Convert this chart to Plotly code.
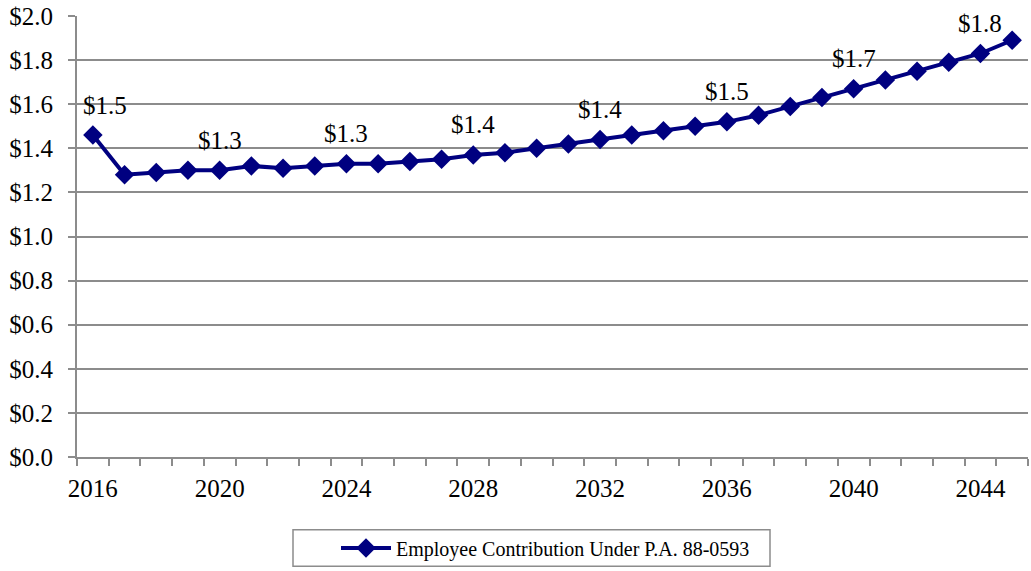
import plotly.graph_objects as go

years = list(range(2016, 2046))
contribution = [1.46, 1.28, 1.29, 1.30, 1.30, 1.32, 1.31, 1.32, 1.33, 1.33,
                1.34, 1.35, 1.37, 1.38, 1.40, 1.42, 1.44, 1.46, 1.48, 1.50,
                1.52, 1.55, 1.59, 1.63, 1.67, 1.71, 1.75, 1.79, 1.83, 1.89]
label_years = [2016, 2020, 2024, 2028, 2032, 2036, 2040, 2044]
tick_years = [2016, 2020, 2024, 2028, 2032, 2036, 2040, 2044]
y_ticks = [0.0, 0.2, 0.4, 0.6, 0.8, 1.0, 1.2, 1.4, 1.6, 1.8, 2.0]
series_name = "Employee Contribution Under P.A. 88-0593"

navy = "#000080"
grid = "#8c8c8c"
font = "Liberation Serif, Times New Roman, serif"

W, H = 1031, 571
L, R, T, B = 77, 3, 10, 113
PW, PH = W - L - R, H - T - B


def px_x(x):
    return (x - L) / PW


def px_y(y):
    return (H - B - y) / PH


fig = go.Figure()
fig.add_trace(go.Scatter(
    x=years, y=contribution, mode="lines+markers", name=series_name,
    line=dict(color=navy, width=4),
    marker=dict(symbol="diamond", size=15, color=navy),
))

for i, yr in enumerate(label_years):
    v = contribution[years.index(yr)]
    fig.add_annotation(x=yr, y=v, text=f"${v:.1f}", showarrow=False,
                       yshift=30, xshift=12 if i == 0 else 0,
                       font=dict(family=font, size=25, color="#000000"))

# legend frame
fig.add_shape(type="rect", xref="paper", yref="paper",
              x0=px_x(293), x1=px_x(770), y0=px_y(569), y1=px_y(532),
              line=dict(color=grid, width=1.5), fillcolor="rgba(0,0,0,0)", layer="above")

fig.update_layout(
    width=W, height=H,
    margin=dict(l=L, r=R, t=T, b=B),
    paper_bgcolor="white", plot_bgcolor="white",
    font=dict(family=font, size=25, color="#000000"),
    showlegend=True,
    legend=dict(orientation="h", x=px_x(336), xanchor="left",
                y=px_y(550.5), yanchor="middle",
                borderwidth=0, bgcolor="rgba(0,0,0,0)",
                font=dict(family=font, size=20), itemwidth=50),
)
fig.update_xaxes(
    range=[2015.5, 2045.5], tickvals=tick_years, ticktext=[str(t) for t in tick_years],
    ticks="", showgrid=False, showline=True, linecolor=grid, linewidth=2,
    tickfont=dict(family=font, size=25), ticklabelstandoff=8,
    minor=dict(tick0=2015.5, dtick=1, ticks="outside", ticklen=7, tickcolor=grid, tickwidth=1.5, showgrid=False),
    zeroline=False,
)
fig.update_yaxes(
    range=[0, 2.0], tickmode="array", tickvals=y_ticks,
    ticktext=[f"${t:.1f}" for t in y_ticks],
    showgrid=True, gridcolor=grid, gridwidth=1.5,
    showline=True, linecolor=grid, linewidth=2,
    ticks="outside", ticklen=7, tickcolor=grid, tickwidth=1.5,
    tickfont=dict(family=font, size=25), ticklabelstandoff=10, zeroline=False,
    ticklabeloverflow="allow",
)

fig.write_html("out.html", config={"displayModeBar": False},
               post_script="document.body.style.margin='0';")
